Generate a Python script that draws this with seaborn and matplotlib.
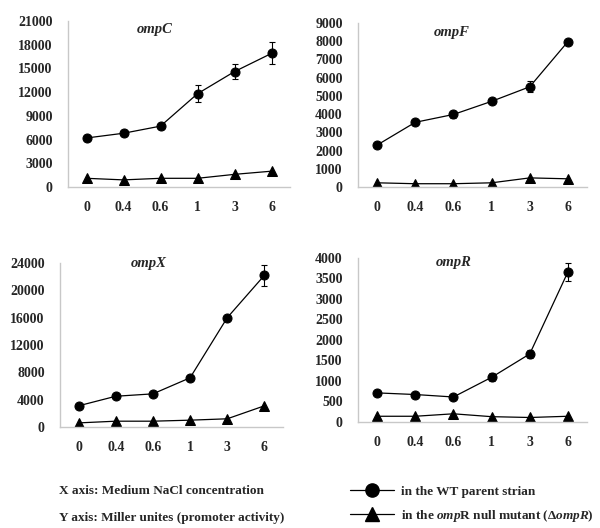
import matplotlib
matplotlib.use("Agg")
import matplotlib.pyplot as plt
import seaborn as sns
import pandas as pd
import numpy as np
from matplotlib.lines import Line2D

sns.set_theme(style="white")
plt.rcParams['font.family'] = ['Liberation Serif', 'DejaVu Serif']
plt.rcParams['font.weight'] = 'bold'
plt.rcParams['mathtext.fontset'] = 'custom'
plt.rcParams['mathtext.it'] = 'Liberation Serif:italic:bold'
plt.rcParams['mathtext.rm'] = 'Liberation Serif:bold'

nacl = ["0", "0.4", "0.6", "1", "3", "6"]

ompC_wt = [6200, 6800, 7700, 11800, 14600, 16900]
ompC_wt_err = [400, 400, 400, 1100, 1000, 1400]
ompC_mut = [1100, 900, 1100, 1100, 1600, 2000]

ompF_wt = [2300, 3550, 3980, 4700, 5500, 7980]
ompF_wt_err = [80, 150, 200, 80, 300, 100]
ompF_mut = [230, 180, 180, 230, 500, 450]

ompX_wt = [3100, 4500, 4850, 7200, 16000, 22200]
ompX_wt_err = [150, 150, 150, 400, 150, 1500]
ompX_mut = [600, 850, 850, 1000, 1200, 3100]

ompR_wt = [710, 670, 610, 1090, 1660, 3660]
ompR_wt_err = [30, 30, 30, 100, 100, 230]
ompR_mut = [140, 140, 200, 130, 110, 140]

panels = [
    ("ompC", ompC_wt, ompC_wt_err, ompC_mut, 21000, 3000, (68, 290, 21, 187), (0.39, 0.95)),
    ("ompF", ompF_wt, ompF_wt_err, ompF_mut, 9000, 1000, (358, 587, 23, 187), (0.41, 0.94)),
    ("ompX", ompX_wt, ompX_wt_err, ompX_mut, 24000, 4000, (60, 283, 263, 427), (0.40, 1.0)),
    ("ompR", ompR_wt, ompR_wt_err, ompR_mut, 4000, 500, (358, 587, 258, 422), (0.42, 0.975)),
]

W, H = 600, 528
fig = plt.figure(figsize=(W / 100, H / 100), dpi=100)

for name, wt, err, mut, ymax, ystep, (l, r, t, b), (tx, ty) in panels:
    ax = fig.add_axes([l / W, 1 - b / H, (r - l) / W, (b - t) / H])
    df = pd.DataFrame({"NaCl": nacl * 2,
                       "value": list(wt) + list(mut),
                       "strain": ["WT"] * 6 + ["mut"] * 6})
    sns.lineplot(data=df, x="NaCl", y="value", style="strain",
                 markers={"WT": "o", "mut": "^"}, dashes=False,
                 color="black", linewidth=0.9, markersize=6.5,
                 markeredgecolor="black", ax=ax, legend=False, sort=False)
    ax.errorbar(np.arange(len(nacl)), wt, yerr=err, fmt="none",
                ecolor="black", elinewidth=0.8, capsize=2.5, capthick=0.8)
    ax.set_xlim(-0.5, len(nacl) - 0.5)
    ax.set_ylim(0, ymax)
    ax.set_yticks(np.arange(0, ymax + 1, ystep))
    ax.set_yticklabels([f"{int(v)}" for v in np.arange(0, ymax + 1, ystep)])
    ax.set_xlabel("")
    ax.set_ylabel("")
    ax.tick_params(axis="both", length=0, labelsize=10)
    ax.tick_params(axis="x", pad=10)
    ax.tick_params(axis="y", pad=11)
    for lab in ax.get_xticklabels() + ax.get_yticklabels():
        lab.set_fontweight("bold")
    sns.despine(ax=ax)
    for s in ("left", "bottom"):
        ax.spines[s].set_color("#c8c8c8")
        ax.spines[s].set_linewidth(1.0)
    ax.text(tx, ty, name, transform=ax.transAxes, ha="center", va="center",
            fontsize=10.5, fontweight="bold", fontstyle="italic")

fig.text(59 / W, 1 - 491 / H, "X axis: Medium NaCl concentration",
         fontsize=9.5, fontweight="bold", va="center", ha="left")
fig.text(59 / W, 1 - 518 / H, "Y axis: Miller unites (promoter activity)",
         fontsize=9.5, fontweight="bold", va="center", ha="left")

h1 = Line2D([], [], color="black", lw=0.9, marker="o", markersize=9.5)
h2 = Line2D([], [], color="black", lw=0.9, marker="^", markersize=9.5)
leg = fig.legend([h1, h2],
                 ["in the WT parent strian",
                  "in the $\\mathit{omp}$R null mutant ($\\mathit{Δ ompR}$)"],
                 loc="center left", bbox_to_anchor=(350 / W, 1 - 504.5 / H),
                 frameon=False, handlelength=3.3,
                 handletextpad=0.6, labelspacing=0.75, borderaxespad=0,
                 borderpad=0, prop={"weight": "bold", "size": 9.5})

fig.savefig("out.png", dpi=100)
